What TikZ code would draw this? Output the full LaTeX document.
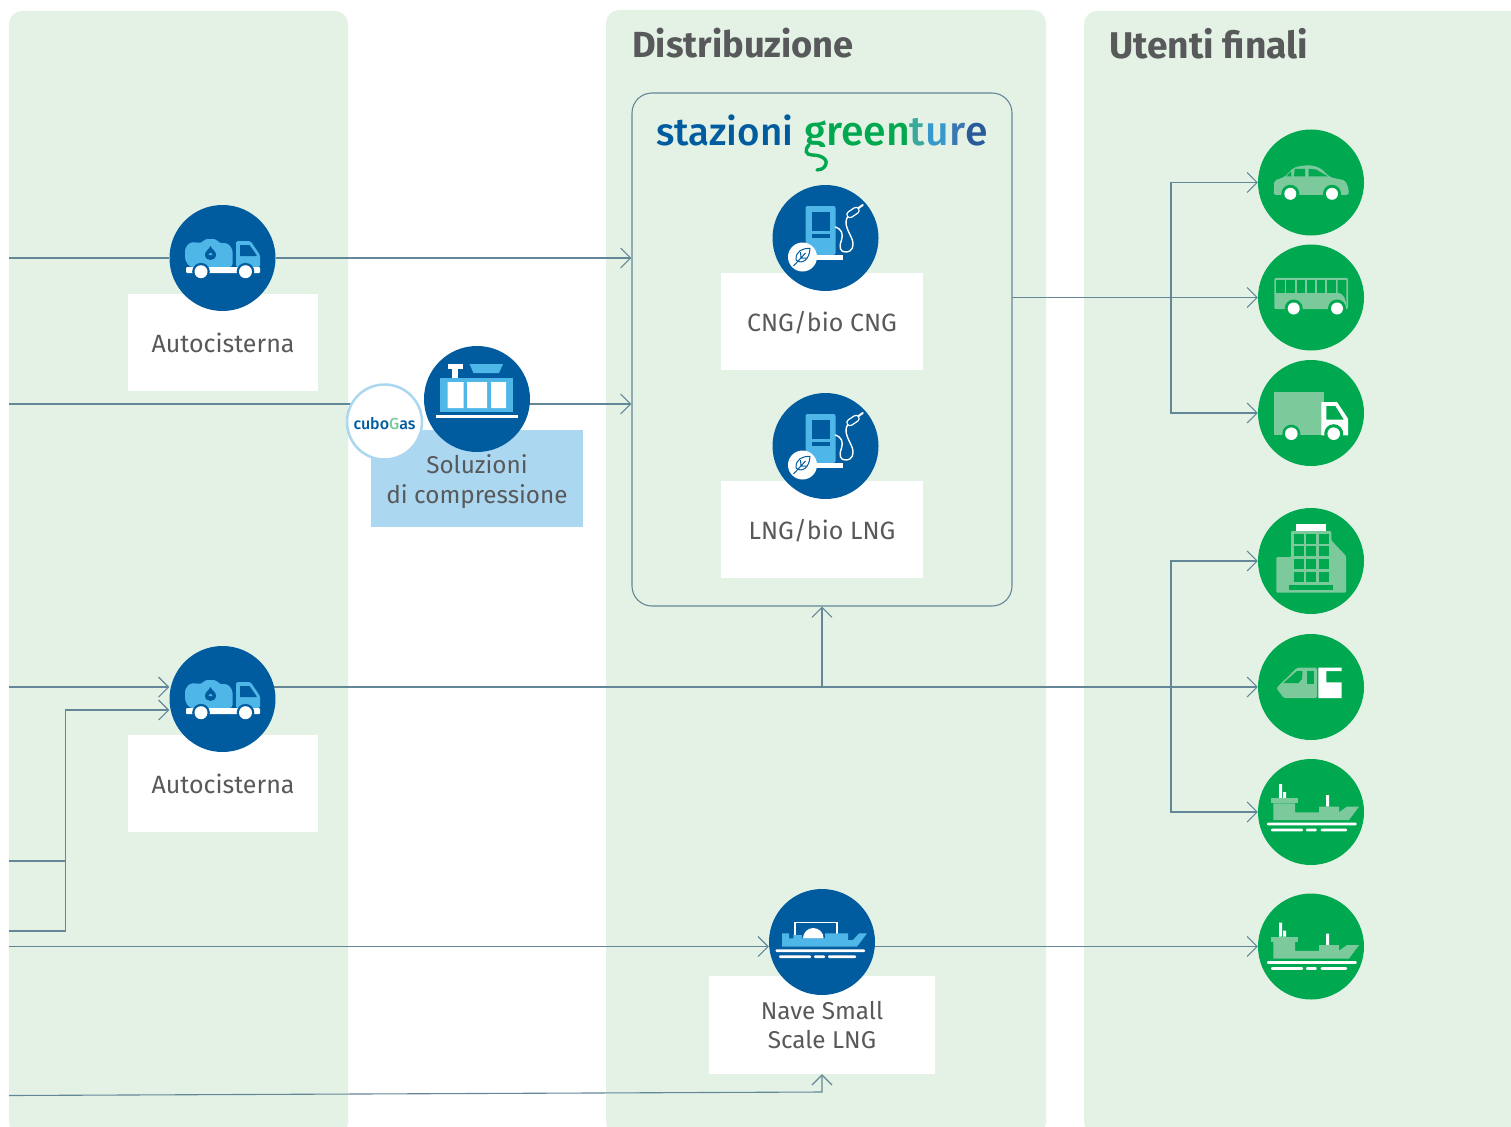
\documentclass[tikz,border=0pt]{standalone}
\usepackage{fontspec}
\setmainfont{Fira Sans}
\newfontfamily\logofont{Fira Sans Medium}
\usetikzlibrary{arrows.meta,calc}
\definecolor{panelc}{HTML}{E4F2E6}
\definecolor{linec}{HTML}{648797}
\definecolor{bluec}{HTML}{005C9F}
\definecolor{skyc}{HTML}{4FB6E8}
\definecolor{paleblue}{HTML}{ABD7F1}
\definecolor{greenc}{HTML}{00A84F}
\definecolor{paleg}{HTML}{7CC99C}
\definecolor{textc}{HTML}{58595B}
\pgfdeclarelayer{bg}\pgfdeclarelayer{lines}
\pgfsetlayers{bg,lines,main}
\tikzset{
  panel/.style={fill=panelc,rounded corners=13pt,inner sep=0pt,draw=none},
  innerbox/.style={draw=linec,line width=1.1pt,rounded corners=20pt,inner sep=0pt},
  labelbox/.style={fill=white,inner sep=0pt},
  labeltext/.style={inner sep=0pt,align=center,text=textc,font=\fontsize{25}{29.5}\selectfont},
  labeltwo/.style={inner sep=0pt,align=center,text=textc,font=\fontsize{24.3}{29.5}\selectfont},
  disc/.style={circle,fill=bluec,minimum size=106pt,inner sep=0pt},
  gdisc/.style={circle,fill=greenc,minimum size=106pt,inner sep=0pt},
  conn/.style={draw=linec,line width=1.1pt},
  tip/.style={-{Straight Barb[length=10pt,width=20pt,line width=1.1pt]}},
  title/.style={anchor=west,inner sep=0pt,text=textc},
}
% tanker truck
\newcommand{\iconTanker}[1]{\begin{scope}[shift={(#1.center)}]
  \fill[skyc,rounded corners=3pt] (-37.5,-10) -- (-32,-16) -- (-20,-15) -- (-18,-19) -- (-6,-19) -- (-4,-15) -- (5,-15) -- (10,-9) -- (10,9) -- (-33,9) -- (-37.5,2) -- cycle;
  \fill[skyc,rounded corners=1.5pt] (13.5,-17) -- (28,-17) -- (37.5,-3) -- (37.5,9) -- (13.5,9) -- cycle;
  \fill[bluec] (17.5,-13) -- (27,-13) -- (34,-3) -- (34,-2) -- (17.5,-2) -- cycle;
  \fill[bluec] (-12,-12) .. controls (-11,-9) and (-6.5,-7) .. (-6.5,-3.5) .. controls (-6.5,0) and (-9,2) .. (-12,2) .. controls (-15,2) and (-17.5,0) .. (-17.5,-3.5) .. controls (-17.5,-7) and (-13,-9) .. (-12,-12) -- cycle;
  \fill[skyc] (-10,-3) arc[start angle=0,end angle=180,x radius=2,y radius=-2];
  \fill[white,rounded corners=1pt] (-36.5,9) rectangle (37.5,15);
  \fill[bluec] (-21.5,13.7) circle[radius=8.8pt] (23,13.7) circle[radius=8.8pt];
  \fill[white] (-21.5,13.7) circle[radius=6.5pt] (23,13.7) circle[radius=6.5pt];
\end{scope}}
% fuel pump with leaf badge
\newcommand{\iconPump}[1]{\begin{scope}[shift={(#1.center)}]
  \fill[skyc,rounded corners=2pt] (-20,17) -- (-20,-32) -- (10,-32) -- (10,17) -- cycle;
  \fill[bluec] (-13.5,-26) rectangle (4,-7);
  \fill[bluec] (-13.5,-4) rectangle (4,0);
  \fill[white] (-18,17) rectangle (17,22);
  \draw[white,line width=1.4pt,line cap=round] (10,-11) .. controls (16,-9) and (18,-4) .. (16,2) .. controls (13,10) and (15,14) .. (20,14) .. controls (27,14) and (29,8) .. (26.5,1) .. controls (23,-7) and (18,-14) .. (22,-21);
  \draw[white,line width=7.6pt,line cap=round] (24.5,-23.5) -- (30.5,-27.5);
  \draw[bluec,line width=4.8pt,line cap=round] (24.5,-23.5) -- (30.5,-27.5);
  \draw[white,line width=2pt,line cap=round] (33,-30) -- (37.3,-33);
  \fill[white] (-23,19) circle[radius=14.5pt];
  \begin{scope}[shift={(-23,19)}]
    \draw[bluec,line width=1pt,line join=round] (7.5,-8.5) .. controls (0,-9) and (-7,-6) .. (-6.5,3) .. controls (-1,8) and (7,3) .. (7.5,-8.5) -- cycle;
    \draw[bluec,line width=1pt] (-9,9) -- (3,-4) (-1.5,1) -- (-2,-5) (-1.5,1) -- (4,1);
  \end{scope}
\end{scope}}
% compressor
\newcommand{\iconCompressor}[1]{\begin{scope}[shift={(#1.center)}]
  \fill[skyc] (-37,-21) rectangle (36,13);
  \fill[white] (-29.5,-17) rectangle (-13.5,9) (-10,-17) rectangle (10,9) (14,-17) rectangle (29,9);
  \fill[white] (-41,16) rectangle (41,18.7);
  \fill[white] (-29.5,-35) rectangle (-14.5,-30);
  \fill[white] (-25,-30) rectangle (-19,-21);
  \fill[skyc] (-7.5,-35) -- (26,-35) -- (22,-26) -- (-3.5,-26) -- cycle;
\end{scope}}
% blue LNG ship
\newcommand{\iconBlueShip}[1]{\begin{scope}[shift={(#1.center)}]
  \draw[white,line width=1.4pt] (-27,-3.7) -- (-27,-19.7) -- (15,-19.7) -- (15,-3.7);
  \fill[skyc] (-40,-8.7) -- (-33,-8.7) -- (-33,-3.7) -- (-28.7,-3.7) -- (-28.7,-7) -- (-20,-7) -- (-20,-3.7) -- (3,-3.7) -- (3,-8.7) -- (26,-8.7) -- (26,-2) -- (31,-2) -- (37,-8.7) -- (45,-8.7) -- (35,4.7) -- (-40,4.7) -- cycle;
  \fill[white] (-19,-3.7) arc[start angle=180,end angle=0,x radius=10.3,y radius=-10.3] -- cycle;
  \fill[white,rounded corners=1pt] (-46.5,7.4) rectangle (43,10);
  \fill[white,rounded corners=1pt] (-43,13.4) rectangle (-11,16) (-8,13.4) rectangle (3,16) (6,13.4) rectangle (34,16);
\end{scope}}
% green ship
\newcommand{\iconGreenShip}[1]{\begin{scope}[shift={(#1.center)}]
  \fill[white] (-32,-28) rectangle (-29,-14) (-28,-20) rectangle (-25,-14) (15,-17) rectangle (18,-5.3);
  \fill[paleg] (-40,-14) rectangle (-13,-8.7);
  \fill[paleg] (-37.7,-8.7) -- (-16,-8.7) -- (-16,0.3) -- (8,0.3) -- (8,-5.3) -- (28,-5.3) -- (28,0.3) -- (35.7,-5.3) -- (48,-5.3) -- (38,8) -- (-37.7,8) -- cycle;
  \fill[white,rounded corners=1pt] (-44,10.7) rectangle (45.7,13.3);
  \fill[white,rounded corners=1pt] (-40,16.7) rectangle (-8,19.3) (-5,16.7) rectangle (5.7,19.3) (9.7,16.7) rectangle (36,19.3);
\end{scope}}
\newcommand{\gwheels}[4]{%
  \fill[greenc] (#1,#2) circle[radius=9pt] (#3,#4) circle[radius=9pt];
  \fill[white] (#1,#2) circle[radius=6pt] (#3,#4) circle[radius=6pt];}
\newcommand{\iconCar}[1]{\begin{scope}[shift={(#1.center)}]
  \fill[paleg,rounded corners=2pt] (-37.3,12.3) -- (-36.7,-2) -- (-27,-5.3) -- (-17,-15) -- (-8,-17) -- (2,-17) -- (10,-14) -- (19,-5.3) -- (34.3,-2) -- (37.7,6.3) -- (37.7,12.3) -- cycle;
  \fill[greenc] (-24.7,-6) -- (-20,-11) -- (-19.5,-6) -- cycle;
  \fill[greenc] (-16.3,-13.5) -- (-6,-13.7) -- (-6,-6) -- (-17,-6) -- cycle;
  \fill[greenc] (-2.3,-13.7) -- (5,-13) -- (17,-6) -- (-2.3,-6) -- cycle;
  \gwheels{-20.7}{11.3}{21}{11.3}
\end{scope}}
\newcommand{\iconBus}[1]{\begin{scope}[shift={(#1.center)}]
  \fill[paleg,rounded corners=2pt] (-36.7,-19.7) rectangle (37,11.7);
  \foreach \xa/\xb in {-34.7/-26.3,-24.7/-16.3,-14.3/-6,-4/4.3,6/14.3,16.3/24.7}
    \fill[greenc] (\xa,-17.3) rectangle (\xb,-5);
  \fill[greenc] (26.7,-17.3) -- (35.3,-17.3) -- (35.3,9) .. controls (35,1) and (33,-4) .. (26.7,-5) -- cycle;
  \gwheels{-17.3}{11}{26}{11}
\end{scope}}
\newcommand{\iconVan}[1]{\begin{scope}[shift={(#1.center)}]
  \fill[paleg] (-37.3,-21) rectangle (12.7,22.3);
  \fill[white] (10.3,-11) -- (26,-11) -- (37,5.7) -- (37,22.3) -- (10.3,22.3) -- cycle;
  \fill[greenc] (15.3,-7) -- (24.3,-7) -- (32.7,6.7) -- (15.3,6.7) -- cycle;
  \fill[greenc] (-19.7,20.7) circle[radius=9pt] (22.7,20.7) circle[radius=9.5pt];
  \fill[white] (-19.7,20.7) circle[radius=6.3pt] (22.7,20.7) circle[radius=6.3pt];
\end{scope}}
\newcommand{\iconBuilding}[1]{\begin{scope}[shift={(#1.center)}]
  \fill[white] (-14.7,-37.3) rectangle (15,-30);
  \fill[paleg,rounded corners=1pt] (-34.7,-4) -- (-20,-4) -- (-20,-30) -- (20.3,-30) -- (20.3,-20.7) -- (35,-5) -- (35,31.7) -- (-34.7,31.7) -- cycle;
  \foreach \ya/\yb in {-27.3/-17.3,-14.7/-4.7,-1.7/8.3,11.3/21.3}
    \foreach \xa/\xb in {-17.3/-7.3,-4.7/5.3,8/18}
      \fill[greenc] (\xa,\ya) rectangle (\xb,\yb);
  \fill[greenc] (-21.7,24.3) rectangle (22.3,29.3);
\end{scope}}
\newcommand{\iconTrain}[1]{\begin{scope}[shift={(#1.center)}]
  \fill[paleg,rounded corners=1.5pt] (-14,-19.3) -- (6,-19.3) -- (6,11) -- (-27.3,11) -- (-34.7,1) -- cycle;
  \fill[greenc] (-27.5,-4) -- (-14,-16) -- (-8.5,-16) -- (-9,-8) -- (-12.5,-4) -- cycle;
  \fill[greenc] (-4,-15.7) rectangle (2.7,-2.7);
  \fill[white] (7.3,-19.3) -- (30.7,-19.3) -- (30.7,-16) -- (15.3,-16) -- (15.3,-4.7) -- (30.7,-4.7) -- (30.7,11) -- (7.3,11) -- cycle;
\end{scope}}
\begin{document}
\begin{tikzpicture}[x=1pt,y=-1pt]
\useasboundingbox (0,0) rectangle (1511,1126);
\clip (0,0) rectangle (1511,1126);
% panels
\begin{pgfonlayer}{bg}
\fill[white] (0,0) rectangle (1511,1126);
\node[panel,minimum width=339pt,minimum height=1124pt] (pLeft) at (178.5,573) {};
\node[panel,minimum width=440pt,minimum height=1125pt] (pMid) at (826,572.5) {};
\node[panel,minimum width=476pt,minimum height=1124pt] (pRight) at (1322,573) {};
\end{pgfonlayer}
\node[title,font=\fontsize{36.3}{40}\selectfont\bfseries] (tDist) at (632,43.5) {Distribuzione};
\node[title,font=\fontsize{37.2}{40}\selectfont\bfseries] (tUser) at (1109,43.5) {Utenti finali};
\node[innerbox,minimum width=380pt,minimum height=513pt] (inner) at (822,349.5) {};
% logo
\node[anchor=base west,inner sep=0pt,text=bluec,font=\fontsize{38.5}{40}\logofont] (logoA) at (656,146) {stazioni};
\begin{scope}
\clip (800,100) rectangle (1000,146.5);
\node[anchor=base west,inner sep=0pt,font=\fontsize{41}{42}\logofont] (logoB) at (804,146) {\textcolor{greenc}{green}\textcolor[HTML]{3AA89A}{t}\textcolor[HTML]{3798CB}{u}\textcolor[HTML]{3B77B0}{r}\textcolor[HTML]{2A5A9A}{e}};
\end{scope}
\draw[greenc,line width=3.4pt,line cap=round] (809,145) .. controls (804,150) and (806,155) .. (812,155) .. controls (822,155) and (829,160) .. (825,166) .. controls (823,169) and (820,170) .. (817,170);
% label boxes
\node[labelbox,minimum width=190pt,minimum height=97pt] (lblA) at (223,342.5) {};
\node[labelbox,minimum width=190pt,minimum height=97pt] (lblB) at (223,783.5) {};
\node[labelbox,fill=paleblue,minimum width=212pt,minimum height=97pt] (lblC) at (477,478.5) {};
\node[labelbox,minimum width=202pt,minimum height=97pt] (lblD) at (822,321.5) {};
\node[labelbox,minimum width=202pt,minimum height=97pt] (lblE) at (822,529.5) {};
\node[labelbox,minimum width=226pt,minimum height=98pt] (lblF) at (822,1025) {};
\node[labeltext] (txtA) at (lblA) {Autocisterna};
\node[labeltext] (txtB) at (lblB) {Autocisterna};
\node[labeltwo,yshift=-3pt] (txtC) at (lblC) {Soluzioni\\di compressione};
\node[labeltext,yshift=-1pt] (txtD) at (lblD) {CNG/bio CNG};
\node[labeltext,yshift=-1pt] (txtE) at (lblE) {LNG/bio LNG};
\node[labeltwo] (txtF) at (lblF) {Nave Small\\Scale LNG};
% discs
\node[disc] (tankerA) at (222.5,258) {};
\node[disc] (tankerB) at (222.5,699) {};
\node[circle,fill=white,draw=paleblue,line width=2.5pt,minimum size=75pt,inner sep=0pt] (cubo) at (384.5,422) {};
\node[inner sep=0pt,font=\fontsize{16}{18}\logofont,text=bluec] (cuboT) at (384.5,424) {cubo\textcolor{paleg}{G}as};
\node[disc] (comp) at (477,399) {};
\node[disc] (pumpA) at (825.5,238) {};
\node[disc] (pumpB) at (825.5,446) {};
\node[disc] (ship) at (822,942) {};
\node[gdisc] (car) at (1311,182.5) {};
\node[gdisc] (bus) at (1311,297.5) {};
\node[gdisc] (van) at (1311,413) {};
\node[gdisc] (bldg) at (1311,561) {};
\node[gdisc] (train) at (1311,687) {};
\node[gdisc] (shipA) at (1311,812) {};
\node[gdisc] (shipB) at (1311,946.5) {};
\coordinate (shipBicon) at ($(shipB.center)+(0,4)$);
\iconTanker{tankerA}\iconTanker{tankerB}\iconCompressor{comp}
\iconPump{pumpA}\iconPump{pumpB}\iconBlueShip{ship}
\iconCar{car}\iconBus{bus}\iconVan{van}\iconBuilding{bldg}\iconTrain{train}
\iconGreenShip{shipA}\iconGreenShip{shipBicon}
% free ends
\coordinate (inA) at (9,258);
\coordinate (inB) at (9,404);
\coordinate (inC) at (9,687);
\coordinate (inD) at (9,861);
\coordinate (inE) at (9,931);
\coordinate (inF) at (9,946.5);
\coordinate (inG) at (9,1095.5);
\coordinate (vLow) at (65.5,710);
\coordinate (tapD) at (65.5,861);
\coordinate (tapE) at (65.5,931);
\coordinate (turnG) at (822,1092);
\coordinate (busOut) at (1012,297.5);
\coordinate (junction) at (1171,297.5);
\coordinate (junctionB) at (1171,687);
\coordinate (upJ) at (822,687);
\begin{pgfonlayer}{lines}
\draw[conn] (inA) -- (tankerA);
\draw[conn,tip] (tankerA) -- (tankerA -| inner.west);
\draw[conn] (inB) -- (inB -| cubo.center);
\draw[conn,tip] (inB -| comp.center) -- (inB -| inner.west);
\draw[conn,tip] (inC) -- (inC -| tankerB.west);
\draw[conn] (inD) -- (tapD);
\draw[conn,tip] (inE) -- (tapE) -- (vLow) -- (vLow -| tankerB.west);
\draw[conn,tip] (inF) -- (inF -| ship.west);
\draw[conn,tip] (inG) -- (turnG) -- (lblF.south);
\draw[conn,tip] (inC -| tankerB.center) -- (inC -| train.west);
\draw[conn,tip] (upJ) -- (inner.south);
\draw[conn,tip] (inF -| ship.center) -- (shipB.west);
\draw[conn,tip] (busOut) -- (bus.west);
\draw[conn,tip] (junction) |- (car.west);
\draw[conn,tip] (junction) |- (van.west);
\draw[conn,tip] (junctionB) |- (bldg.west);
\draw[conn,tip] (junctionB) |- (shipA.west);
\end{pgfonlayer}
\end{tikzpicture}
\end{document}
